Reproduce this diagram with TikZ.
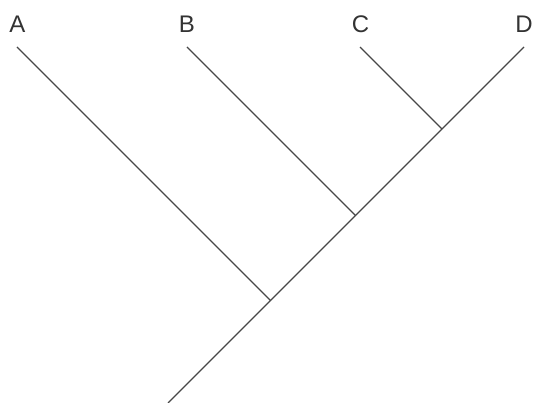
\documentclass[tikz,border=0pt]{standalone}
\usepackage{fontspec}
\setmainfont{Liberation Sans}
\begin{document}
\begin{tikzpicture}[x=1pt,y=-1pt,
  lbl/.style={anchor=base,inner sep=0pt,font=\fontsize{24}{28}\selectfont,text=black!80},
  branch/.style={draw=black!72,line width=1.3pt}]
\useasboundingbox (0,0) rectangle (533,403);
\node[lbl] (A) at (17.5,33) {A};
\node[lbl] (B) at (187,33) {B};
\node[lbl] (C) at (360.5,33) {C};
\node[lbl] (D) at (524,33) {D};
\coordinate (tA) at (17,47);
\coordinate (tB) at (187,47);
\coordinate (tC) at (360,47);
\coordinate (tD) at (524,47);
\coordinate (j3) at (442,129);
\coordinate (j2) at (355.5,215.5);
\coordinate (j1) at (270.5,300.5);
\coordinate (root) at (168,403);
\draw[branch] (tD) -- (j3) -- (j2) -- (j1) -- (root);
\draw[branch] (tC) -- (j3);
\draw[branch] (tB) -- (j2);
\draw[branch] (tA) -- (j1);
\end{tikzpicture}
\end{document}
